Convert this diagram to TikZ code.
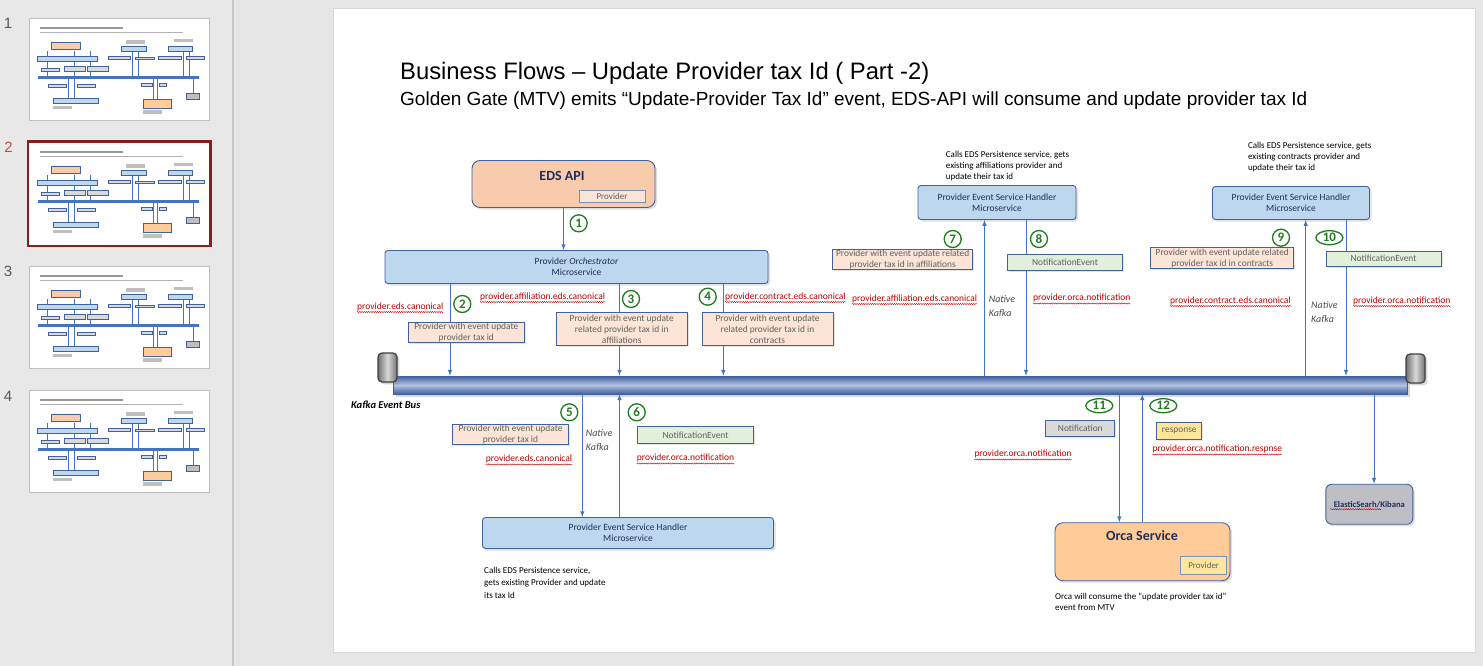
\documentclass[tikz,border=0pt]{standalone}
\usepackage{fontspec}
\setmainfont{Carlito}
\newfontfamily\arialfont{Liberation Sans}
\usetikzlibrary{shapes.geometric, shadows, backgrounds, decorations.pathmorphing}

\definecolor{arrowblue}{HTML}{4472C4}
\definecolor{boxline}{HTML}{41609E}
\definecolor{svcblue}{HTML}{BDD7EE}
\definecolor{peach}{HTML}{F8CBAD}
\definecolor{msgpeach}{HTML}{FCE4D6}
\definecolor{msggreen}{HTML}{E2EFDA}
\definecolor{msggray}{HTML}{D9D9D9}
\definecolor{msgyellow}{HTML}{FFE699}
\definecolor{orcafill}{HTML}{FFCC99}
\definecolor{elkgray}{HTML}{BEBEC6}
\definecolor{topicred}{HTML}{C00000}
\definecolor{stepgreen}{HTML}{1E7B1E}
\definecolor{textnavy}{HTML}{1F2F5A}
\definecolor{busedge}{HTML}{3F5F9F}
\definecolor{busmid}{HTML}{B4C4E0}
\definecolor{panelgray}{HTML}{E8E8E8}
\definecolor{deskgray}{HTML}{E6E6E6}
\definecolor{thumbred}{HTML}{8B1C1C}
\definecolor{numred}{HTML}{C0504D}

\begin{document}
\begin{tikzpicture}[
    x=1pt, y=-1pt,
    service/.style={rectangle, draw=boxline, fill=svcblue, rounded corners=3pt, line width=0.9pt, align=center, inner sep=0pt, font=\fontsize{9.5}{11}\selectfont, text=textnavy, drop shadow={opacity=0.25, shadow xshift=2pt, shadow yshift=-2pt}},
    msg/.style={rectangle, draw=boxline, line width=1pt, fill=msgpeach, align=center, inner sep=0pt, font=\fontsize{9.4}{11}\selectfont, text=black!62, drop shadow={opacity=0.2, shadow xshift=1.5pt, shadow yshift=-1.5pt}},
    part/.style={rectangle, draw=boxline!70, line width=0.8pt, fill=msgpeach, inner sep=0pt, font=\fontsize{9}{10}\selectfont, text=black!62},
    topic/.style={anchor=base west, text=topicred, inner sep=0pt, font=\fontsize{9.5}{11}\selectfont},
    spell/.style={draw=topicred, line width=0.4pt, decorate, decoration={snake, amplitude=0.6pt, segment length=2.2pt}},
    stepno/.style={circle, draw=stepgreen, line width=1.3pt, fill=white, text=stepgreen, inner sep=0pt, minimum size=17pt, font=\bfseries\fontsize{13}{13}\selectfont},
    stepwide/.style={stepno, ellipse, minimum width=27pt, minimum height=14pt},
    flow/.style={-latex, draw=arrowblue, line width=1pt},
    note/.style={anchor=north west, align=left, inner sep=0pt, font=\fontsize{9}{11}\selectfont},
    nativek/.style={anchor=west, align=left, inner sep=0pt, text=black!70, font=\itshape\fontsize{10}{14}\selectfont},
    bus/.style={rectangle, inner sep=0pt, draw=busedge, line width=0.6pt, top color=busedge, bottom color=busedge, middle color=busmid, drop shadow={opacity=0.3, shadow xshift=3pt, shadow yshift=-3pt}},
    busend/.style={rectangle, rounded corners=4pt, inner sep=0pt, draw=black!75, line width=1.2pt, left color=black!55, right color=black!55, middle color=black!15, minimum width=19pt, minimum height=29pt, drop shadow={opacity=0.3}},
    thumbnum/.style={font=\arialfont\fontsize{15}{15}\selectfont, text=black!65}
  ]
    \useasboundingbox (0,0) rectangle (1483,666);

    % Window, slide panel and slide
    \begin{scope}[on background layer]
      \fill[panelgray] (0,0) rectangle (233,666);
      \fill[deskgray] (233,0) rectangle (1483,666);
      \draw[black!22, line width=1.2pt] (233,0) -- (233,666);
      \filldraw[fill=white, draw=black!15] (333,8) rectangle (1475,652);
    \end{scope}

    % Slide thumbnails
    \foreach \ty in {18,266,390} {
      \filldraw[fill=white, draw=black!25] (29,\ty) rectangle (209.5,\ty+102);
    }
    \filldraw[fill=white, draw=thumbred, line width=2.5pt] (28,141.3) rectangle (210.7,246);
    \foreach \ty in {18,142,266,390} {
      \begin{scope}[shift={(29,\ty)}, scale=0.158, shift={(-333,-8)}]
        \fill[black!40] (400,64) rectangle (930,80);
        \fill[black!30] (400,94) rectangle (1308,106);
        \fill[arrowblue] (393,376) rectangle (1407,394);
        \foreach \xa in {450,620,723,985,1026,1306,1346} \draw[arrowblue, line width=0.4pt] (\xa,219) -- (\xa,376);
        \foreach \xa in {582,620,1119,1142,1374} \draw[arrowblue, line width=0.4pt] (\xa,394) -- (\xa,520);
        \foreach \xa/\ya/\xb/\yb/\col in {472/161/655/207/peach, 385/251/767/283/svcblue, 918/186/1077/219/svcblue, 1212/186/1369/219/svcblue, 483/517/773/548/svcblue, 1055/523/1230/580/orcafill, 1326/484/1412/523/elkgray, 408/323/524/343/msggray, 556/313/687/346/msggray, 702/313/833/346/msggray, 832/249/973/269/msggray, 1006/254/1123/270/msggray, 1150/248/1294/269/msggray, 1326/251/1441/266/msggray, 452/424/569/444/msggray, 637/427/753/443/msggray, 1046/421/1115/437/msggray, 1157/422/1202/439/msggray}
          \filldraw[fill=\col, draw=boxline, line width=0.4pt] (\xa,\ya) rectangle (\xb,\yb);
        \foreach \xa/\ya in {945/150, 1248/142, 484/567, 1055/593} \fill[black!25] (\xa,\ya) rectangle (\xa+120,\ya+20);
      \end{scope}
    }
    \node[thumbnum] (num1) at (8,23) {1};
    \node[thumbnum, text=numred] (num2) at (8.5,147) {2};
    \node[thumbnum] (num3) at (8,271.5) {3};
    \node[thumbnum] (num4) at (8,396) {4};

    % Title
    \node[anchor=base west, inner sep=0pt, font=\arialfont\fontsize{23.8}{26}\selectfont] (title) at (400,80) {Business Flows – Update Provider tax Id ( Part -2)};
    \node[anchor=base west, inner sep=0pt, font=\arialfont\fontsize{19}{22}\selectfont] (subtitle) at (400,106) {Golden Gate (MTV) emits “Update-Provider Tax Id” event, EDS-API will consume and update provider tax Id};

    % Top: EDS API and orchestrator
    \node[service, fill=peach, rounded corners=8pt, minimum width=183pt, minimum height=47pt] (eds) at (563.5,184) {};
    \node[font=\bfseries\fontsize{14}{14}\selectfont, text=textnavy] (edsname) at (562,176) {EDS API};
    \node[part, minimum width=66pt, minimum height=11.5pt] (edsprov) at (612,196.3) {Provider};
    \node[service, minimum width=383pt, minimum height=33pt] (orch) at (576.5,267) {Provider \textit{Orchestrator}\\Microservice};

    \node[msg, minimum width=116pt, minimum height=20pt] (msg2) at (466.3,332.5) {Provider with event update\\provider tax id};
    \node[msg, minimum width=131pt, minimum height=33pt] (msg3) at (621.7,329) {Provider with event update\\related provider tax id in\\affiliations};
    \node[msg, minimum width=131pt, minimum height=33pt] (msg4) at (767.5,329) {Provider with event update\\related provider tax id in\\contracts};

    % Top right: affiliations and contracts handlers
    \node[note] (noteaff) at (945.7,151) {Calls EDS Persistence service, gets\\existing affiliations provider and\\update their tax id};
    \node[service, minimum width=158pt, minimum height=34pt] (hdlaff) at (997,202.5) {Provider Event Service Handler\\Microservice};
    \node[msg, minimum width=140pt, minimum height=20pt] (msg7) at (902.7,259.3) {Provider with event update related\\provider tax id in affiliations};
    \node[msg, fill=msggreen, minimum width=115pt, minimum height=16pt] (msg8) at (1065,262) {NotificationEvent};

    \node[note] (notecon) at (1247.8,142) {Calls EDS Persistence service, gets\\existing contracts provider and\\update their tax id};
    \node[service, minimum width=157pt, minimum height=33pt] (hdlcon) at (1291,203) {Provider Event Service Handler\\Microservice};
    \node[msg, minimum width=143pt, minimum height=21pt] (msg9) at (1222.3,258.3) {Provider with event update related\\provider tax id in contracts};
    \node[msg, fill=msggreen, minimum width=115pt, minimum height=15pt] (msg10) at (1383.5,258.5) {NotificationEvent};

    % Kafka event bus
    \node[bus, minimum width=1014pt, minimum height=18pt] (bus) at (900,385) {};
    \node[busend] (busl) at (387.5,367.5) {};
    \node[busend] (busr) at (1415.5,368.5) {};
    \node[anchor=west, inner sep=0pt, font=\bfseries\itshape\fontsize{10.5}{12}\selectfont] (buslabel) at (351,405) {Kafka Event Bus};

    % Bottom left: provider handler
    \node[msg, minimum width=116pt, minimum height=20pt] (msg5) at (510.5,434.3) {Provider with event update\\provider tax id};
    \node[msg, fill=msggreen, minimum width=116pt, minimum height=17pt] (msg6) at (695.5,435) {NotificationEvent};
    \node[service, minimum width=291pt, minimum height=31pt] (hdlprov) at (628,533) {Provider Event Service Handler\\Microservice};
    \node[note, font=\fontsize{9}{12.5}\selectfont] (noteprov) at (484,567) {Calls EDS Persistence service,\\gets existing Provider and update\\its tax Id};

    % Bottom right: Orca and ElasticSearch
    \node[msg, fill=msggray, minimum width=69pt, minimum height=16pt] (msg11) at (1080.3,428.7) {Notification};
    \node[msg, fill=msgyellow, minimum width=45pt, minimum height=17pt] (msg12) at (1179.3,430.8) {response};
    \node[service, fill=orcafill, rounded corners=8pt, minimum width=175pt, minimum height=58pt] (orca) at (1142.5,551.7) {};
    \node[font=\bfseries\fontsize{14}{14}\selectfont, text=textnavy] (orcaname) at (1142,535.7) {Orca Service};
    \node[part, fill=msgyellow, minimum width=46pt, minimum height=17.6pt] (orcaprov) at (1203.7,565.5) {Provider};
    \node[note] (noteorca) at (1055,593) {Orca will consume the “update provider tax id”\\event from MTV};
    \node[service, fill=elkgray, rounded corners=6pt, minimum width=87pt, minimum height=40pt, font=\bfseries\fontsize{8.6}{10}\selectfont] (elk) at (1369.3,504.2) {ElasticSearh/Kibana};
    \draw[spell] ([xshift=-39pt, yshift=-5pt]elk.center) -- ([xshift=12pt, yshift=-5pt]elk.center);

    % Topics
    \node[topic] (top2) at (357,309) {provider.eds.canonical};
    \node[topic] (top3) at (480,299) {provider.affiliation.eds.canonical};
    \node[topic] (top4) at (725,299) {provider.contract.eds.canonical};
    \node[topic] (top7) at (852,301) {provider.affiliation.eds.canonical};
    \node[topic] (top8) at (1033,300.5) {provider.orca.notification};
    \node[topic] (top9) at (1170,303) {provider.contract.eds.canonical};
    \node[topic] (top10) at (1353,303) {provider.orca.notification};
    \node[topic] (top5) at (485.7,461.5) {provider.eds.canonical};
    \node[topic] (top6) at (636.7,460.5) {provider.orca.notification};
    \node[topic] (top11) at (974.3,456.5) {provider.orca.notification};
    \node[topic] (top12) at (1152.3,451.5) {provider.orca.notification.respnse};
    \foreach \t in {top2,top3,top4,top5,top6,top7,top8,top9,top10,top11,top12}
      \draw[spell] ([yshift=-3pt]\t.base west) -- ([yshift=-3pt]\t.base east);

    \node[nativek] (kafaff) at (988.6,306) {Native\\Kafka};
    \node[nativek] (kafcon) at (1311,311.7) {Native\\Kafka};
    \node[nativek] (kafprov) at (585.7,439.7) {Native\\Kafka};

    % Steps
    \node[stepno] (s1) at (578.7,223.3) {1};
    \node[stepno] (s2) at (462.3,304) {2};
    \node[stepno] (s3) at (631,299) {3};
    \node[stepno] (s4) at (707.7,296.7) {4};
    \node[stepno] (s5) at (569.3,412.3) {5};
    \node[stepno] (s6) at (636.7,412.3) {6};
    \node[stepno] (s7) at (952.7,239) {7};
    \node[stepno] (s8) at (1039,239) {8};
    \node[stepno] (s9) at (1281,237.7) {9};
    \node[stepwide] (s10) at (1329.4,237.7) {10};
    \node[stepwide] (s11) at (1099.3,405.7) {11};
    \node[stepwide] (s12) at (1163.3,405.7) {12};

    % Flows
    \foreach \n/\xl in {2/450, 3/619.5, 4/723.3, 5/582.3, 6/619.5, 7/984.5, 8/1026, 9/1305.7, 10/1346, 11/1119.3, 12/1142.3, 13/1374}
      \coordinate (lane\n) at (\xl,0);
    \begin{scope}[on background layer]
      \draw[flow] (eds.south) -- (eds.south |- orch.north);
      \draw[flow] (orch.south -| lane2) -- (bus.north -| lane2);
      \draw[flow] (orch.south -| lane3) -- (bus.north -| lane3);
      \draw[flow] (orch.south -| lane4) -- (bus.north -| lane4);
      \draw[flow] (bus.north -| lane7) -- (hdlaff.south -| lane7);
      \draw[flow] (hdlaff.south -| lane8) -- (bus.north -| lane8);
      \draw[flow] (bus.north -| lane9) -- (hdlcon.south -| lane9);
      \draw[flow] (hdlcon.south -| lane10) -- (bus.north -| lane10);
      \draw[flow] (bus.south -| lane5) -- (hdlprov.north -| lane5);
      \draw[flow] (hdlprov.north -| lane6) -- (bus.south -| lane6);
      \draw[flow] (bus.south -| lane11) -- (orca.north -| lane11);
      \draw[flow] (orca.north -| lane12) -- (bus.south -| lane12);
      \draw[flow] (bus.south -| lane13) -- (elk.north -| lane13);
    \end{scope}
\end{tikzpicture}
\end{document}
